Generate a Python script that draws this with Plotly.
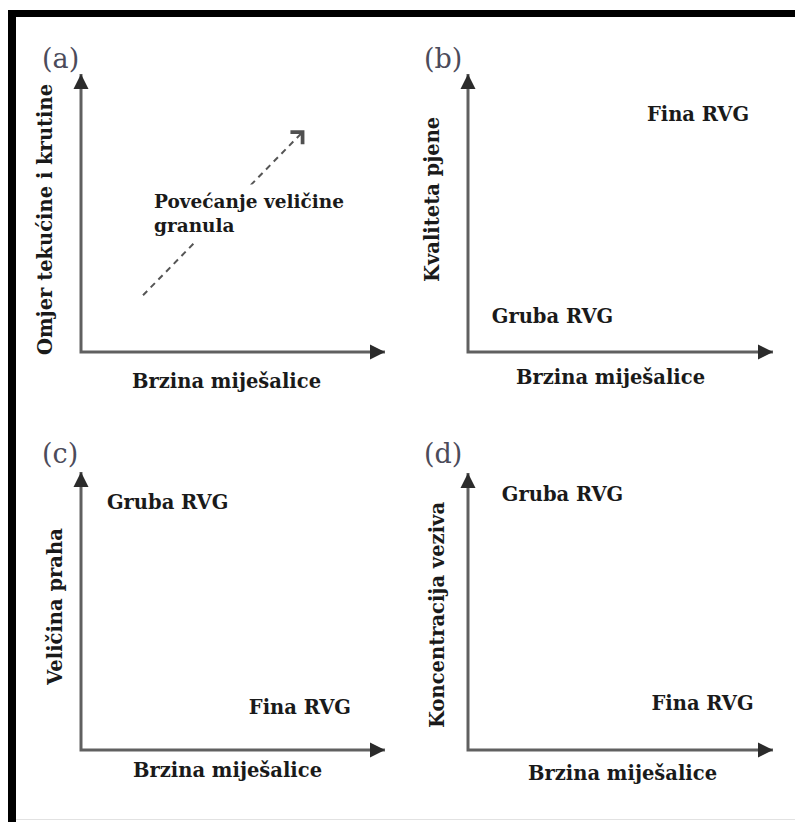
import plotly.graph_objects as go

# window size and the page's default body margin
WIN_W, WIN_H = 803, 822
OFF = 8
W, H = WIN_W - OFF, WIN_H - OFF

# ---------------- data (schematic, arbitrary units 0-10) ----------------
axis_path_x = [0, 0, 10]
axis_path_y = [10, 0, 0]
axis_tip = 10

trend_x = [2.04, 7.35]
trend_y = [2.04, 7.98]
trend_text = "Povećanje veličine<br>granula"
trend_text_x = 2.17
trend_text_y = 4.98

panel_letters = ["(a)", "(b)", "(c)", "(d)"]
x_titles = ["Brzina miješalice", "Brzina miješalice", "Brzina miješalice", "Brzina miješalice"]
y_titles = ["Omjer tekućine i krutine", "Kvaliteta pjene", "Veličina praha", "Koncentracija veziva"]

b_labels = ["Fina RVG", "Gruba RVG"]
b_x = [7.54, 2.77]
b_y = [8.49, 1.22]

c_labels = ["Gruba RVG", "Fina RVG"]
c_x = [2.85, 7.20]
c_y = [8.85, 1.47]

d_labels = ["Gruba RVG", "Fina RVG"]
d_x = [3.10, 7.69]
d_y = [9.17, 1.62]

# ---------------- layout geometry (window pixels) ----------------
# (origin x, origin y, x at value 10, y at value 10)
panels_px = [
    (81, 352, 385, 74),
    (468, 352, 773, 74),
    (81, 750, 385, 472),
    (468, 750, 773, 473),
]
letter_px = [(60, 58), (443, 58), (60, 453), (443, 453)]
xtitle_px = [(226, 381), (610, 377), (227, 770), (622, 773)]
ytitle_px = [(45, 220), (433, 200), (55, 607), (437, 615)]

RNG = [-0.5, 10.5]
FONT = "DejaVu Serif"
TXT = "#1a1a1a"
AXC = "#606060"
HEADC = "#2b2b2b"
FS = 19.5


def px2paper_x(px):
    return (px - OFF) / W


def px2paper_y(py):
    return 1 - (py - OFF) / H


fig = go.Figure()
layout = dict(
    width=W, height=H, autosize=False,
    margin=dict(l=0, r=0, t=0, b=0),
    paper_bgcolor="white", plot_bgcolor="white",
    showlegend=False,
)

annotations = []
for i, (ox, oy, ex, ey) in enumerate(panels_px):
    k = "" if i == 0 else str(i + 1)
    sx = (ex - ox) / 10.0
    sy = (ey - oy) / 10.0
    xd = [px2paper_x(ox + sx * RNG[0]), px2paper_x(ox + sx * RNG[1])]
    yd = [px2paper_y(oy + sy * RNG[0]), px2paper_y(oy + sy * RNG[1])]
    layout["xaxis" + k] = dict(domain=xd, range=RNG, visible=False, anchor="y" + k, fixedrange=True)
    layout["yaxis" + k] = dict(domain=yd, range=RNG, visible=False, anchor="x" + k, fixedrange=True)
    xr, yr = "x" + k, "y" + k

    # axis lines
    fig.add_trace(go.Scatter(x=axis_path_x, y=axis_path_y, mode="lines",
                             line=dict(color=AXC, width=3), xaxis=xr, yaxis=yr,
                             hoverinfo="skip"))
    # arrow heads
    annotations.append(dict(x=axis_tip, y=0, xref=xr, yref=yr, ax=-9, ay=0, text="",
                            font=dict(size=1), borderpad=0,
                            showarrow=True, arrowhead=2, arrowwidth=3, arrowsize=1,
                            arrowcolor=HEADC))
    annotations.append(dict(x=0, y=axis_tip, xref=xr, yref=yr, ax=0, ay=9, text="",
                            font=dict(size=1), borderpad=0,
                            showarrow=True, arrowhead=2, arrowwidth=3, arrowsize=1,
                            arrowcolor=HEADC))

    # panel letter
    lx, ly = letter_px[i]
    annotations.append(dict(x=px2paper_x(lx), y=px2paper_y(ly), xref="paper", yref="paper",
                            xanchor="center", yanchor="middle",
                            text=panel_letters[i], showarrow=False,
                            font=dict(family=FONT, size=27, color="#4b4b5a")))
    # x title
    tx, ty = xtitle_px[i]
    annotations.append(dict(x=px2paper_x(tx), y=px2paper_y(ty), xref="paper", yref="paper",
                            xanchor="center", yanchor="middle",
                            text=x_titles[i], showarrow=False,
                            font=dict(family=FONT, size=FS, color=TXT, weight=700)))
    # y title
    tx, ty = ytitle_px[i]
    annotations.append(dict(x=px2paper_x(tx), y=px2paper_y(ty), xref="paper", yref="paper",
                            xanchor="center", yanchor="middle",
                            text=y_titles[i], showarrow=False, textangle=-90,
                            font=dict(family=FONT, size=FS, color=TXT, weight=700)))

# panel (a): dashed trend arrow
fig.add_trace(go.Scatter(x=trend_x, y=trend_y, mode="lines",
                         line=dict(color="#555555", width=2, dash="6px,5px"),
                         xaxis="x", yaxis="y", hoverinfo="skip"))
annotations.append(dict(x=trend_x[-1], y=trend_y[-1], xref="x", yref="y", ax=-5, ay=5,
                        text="", font=dict(size=1), borderpad=0,
                        showarrow=True, arrowhead=4, arrowwidth=1.5, arrowsize=2.2,
                        arrowcolor="#505050"))
annotations.append(dict(x=trend_text_x, y=trend_text_y, xref="x", yref="y",
                        text=trend_text, showarrow=False, xanchor="left", yanchor="middle",
                        align="left", bgcolor="white", borderpad=6,
                        font=dict(family=FONT, size=18.5, color=TXT, weight=700)))

# region labels
for (labels, xs, ys, k) in [(b_labels, b_x, b_y, "2"), (c_labels, c_x, c_y, "3"), (d_labels, d_x, d_y, "4")]:
    fig.add_trace(go.Scatter(x=xs, y=ys, text=labels, mode="text",
                             textfont=dict(family=FONT, size=FS, color=TXT, weight=700),
                             xaxis="x" + k, yaxis="y" + k, hoverinfo="skip"))

# frame bands (window pixels)
shapes = [
    dict(type="rect", xref="paper", yref="paper", x0=px2paper_x(8), x1=px2paper_x(WIN_W + 2),
         y0=px2paper_y(17), y1=px2paper_y(10), fillcolor="black", line=dict(width=0)),
    dict(type="rect", xref="paper", yref="paper", x0=px2paper_x(8), x1=px2paper_x(16),
         y0=px2paper_y(WIN_H + 2), y1=px2paper_y(10), fillcolor="black", line=dict(width=0)),
    dict(type="line", xref="paper", yref="paper", x0=px2paper_x(16), x1=px2paper_x(WIN_W + 2),
         y0=px2paper_y(819.5), y1=px2paper_y(819.5), line=dict(color="#e2e2e2", width=1)),
]

layout["annotations"] = annotations
layout["shapes"] = shapes
fig.update_layout(**layout)

fig.write_html("out.html", config={"displayModeBar": False})
